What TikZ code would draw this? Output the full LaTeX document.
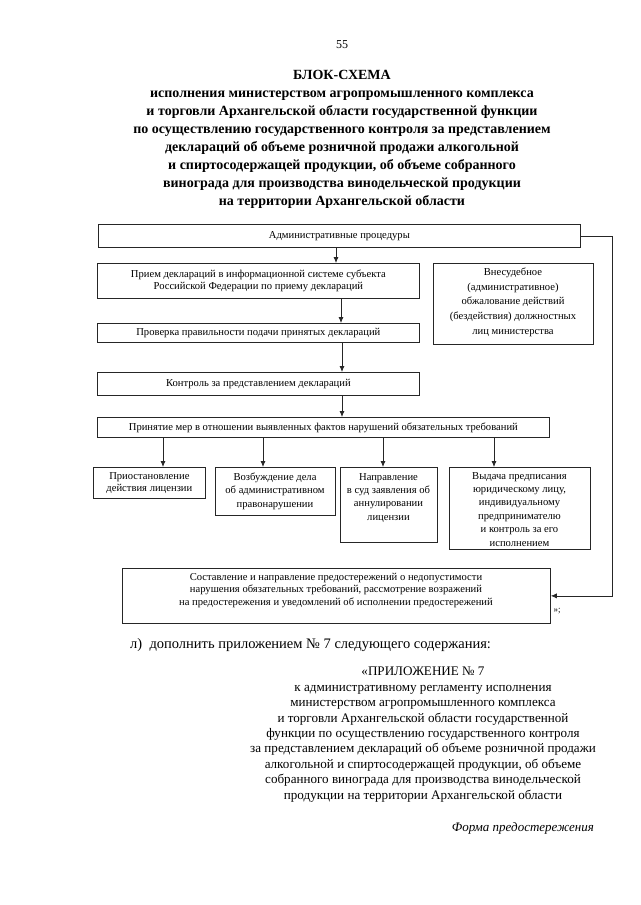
\documentclass[tikz,border=0pt]{standalone}
\usepackage{fontspec}
\setmainfont{Liberation Serif}
\usetikzlibrary{arrows.meta}
\begin{document}
\begin{tikzpicture}[x=1pt,y=-1pt,
  box/.style={draw=black!85, line width=0.75pt, inner sep=0pt, anchor=north west},
  btxt/.style={font=\fontsize{10.6}{12.4}\selectfont, align=center, inner sep=0pt},
  btxtw/.style={font=\fontsize{10.6}{13.4}\selectfont, align=center, inner sep=0pt},
  arr/.style={draw=black!85, line width=0.75pt, -{Latex[length=6pt,width=5pt]}},
  plain/.style={inner sep=0pt}]
\useasboundingbox[fill=white] (0,0) rectangle (640,905);

% header
\node[plain, font=\fontsize{12}{14}\selectfont] (pg) at (342,45) {55};
\node[plain, font=\fontsize{14}{17.9}\selectfont\bfseries, align=center] (title) at (342,139.5)
 {БЛОК-СХЕМА\\
  исполнения министерством агропромышленного комплекса\\
  и торговли Архангельской области государственной функции\\
  по осуществлению государственного контроля за представлением\\
  деклараций об объеме розничной продажи алкогольной\\
  и спиртосодержащей продукции, об объеме собранного\\
  винограда для производства винодельческой продукции\\
  на территории Архангельской области};

% boxes
\node[box, minimum width=482pt, minimum height=23pt] (b1) at (98,224) {};
\node[btxt] (t1) at (b1.center) {Административные процедуры};

\node[box, minimum width=322pt, minimum height=35pt] (b2) at (97,263) {};
\node[btxt] (t2) at (b2.center) {Прием деклараций в информационной системе субъекта\\Российской Федерации по приему деклараций};

\node[box, minimum width=160pt, minimum height=81pt] (br) at (433,263) {};
\node[plain, font=\fontsize{10.6}{14.6}\selectfont, align=center, anchor=north] (tr) at (513,268) {Внесудебное\\(административное)\\обжалование действий\\(бездействия) должностных\\лиц министерства};

\node[box, minimum width=322pt, minimum height=19pt] (b3) at (97,323) {};
\node[btxt] (t3) at (b3.center) {Проверка правильности подачи принятых деклараций};

\node[box, minimum width=322pt, minimum height=23pt] (b4) at (97,372) {};
\node[btxt] (t4) at (b4.center) {Контроль за представлением деклараций};

\node[box, minimum width=452pt, minimum height=20pt] (b5) at (97,417) {};
\node[btxt] (t5) at (b5.center) {Принятие мер в отношении выявленных фактов нарушений обязательных требований};

\node[box, minimum width=112pt, minimum height=31pt] (ba) at (93,467) {};
\node[btxt] (ta) at (ba.center) {Приостановление\\действия лицензии};

\node[box, minimum width=120pt, minimum height=48pt] (bb) at (215,467) {};
\node[btxtw, anchor=north] (tb) at (275,472.5) {Возбуждение дела\\об административном\\правонарушении};

\node[box, minimum width=97pt, minimum height=75pt] (bc) at (340,467) {};
\node[btxtw, anchor=north] (tc) at (388.5,473) {Направление\\в суд заявления об\\аннулировании\\лицензии};

\node[box, minimum width=141pt, minimum height=82pt] (bd) at (449,467) {};
\node[btxtw, anchor=north] (td) at (519.5,472) {Выдача предписания\\юридическому лицу,\\индивидуальному\\предпринимателю\\и контроль за его\\исполнением};

\node[box, minimum width=428pt, minimum height=55pt] (bg) at (122,568) {};
\node[btxt, anchor=north] (tg) at (336,573) {Составление и направление предостережений о недопустимости\\нарушения обязательных требований, рассмотрение возражений\\на предостережения и уведомлений об исполнении предостережений};

% connector x positions
\coordinate (x1) at (336,0);
\coordinate (x2) at (341,0);
\coordinate (x3) at (342,0);
\coordinate (xa) at (163,0);
\coordinate (xb) at (263,0);
\coordinate (xc) at (383,0);
\coordinate (xd) at (494,0);

\draw[arr] (b1.south -| x1) -- (b2.north -| x1);
\draw[arr] (b2.south -| x2) -- (b3.north -| x2);
\draw[arr] (b3.south -| x3) -- (b4.north -| x3);
\draw[arr] (b4.south -| x3) -- (b5.north -| x3);
\draw[arr] (b5.south -| xa) -- (ba.north -| xa);
\draw[arr] (b5.south -| xb) -- (bb.north -| xb);
\draw[arr] (b5.south -| xc) -- (bc.north -| xc);
\draw[arr] (b5.south -| xd) -- (bd.north -| xd);

\coordinate (rc) at (612,0);
\draw[arr] (b1.east) -- (b1.east -| rc) -- (bg.east -| rc) -- (bg.east);

\node[plain, font=\fontsize{9}{10}\selectfont] (q) at (557,611) {»;};

% lower text
\node[plain, anchor=west, font=\fontsize{14.5}{17}\selectfont] (lp) at (130,645) {л)\ \ дополнить приложением №~7 следующего содержания:};

\node[plain, font=\fontsize{13.1}{15.4}\selectfont, align=center] (app) at (423,734.5)
 {«ПРИЛОЖЕНИЕ №~7\\
  к административному регламенту исполнения\\
  министерством агропромышленного комплекса\\
  и торговли Архангельской области государственной\\
  функции по осуществлению государственного контроля\\
  за представлением деклараций об объеме розничной продажи\\
  алкогольной и спиртосодержащей продукции, об объеме\\
  собранного винограда для производства винодельческой\\
  продукции на территории Архангельской области};

\node[plain, anchor=east, font=\fontsize{13}{15}\selectfont\itshape] (fp) at (594,828) {Форма предостережения};
\end{tikzpicture}
\end{document}
